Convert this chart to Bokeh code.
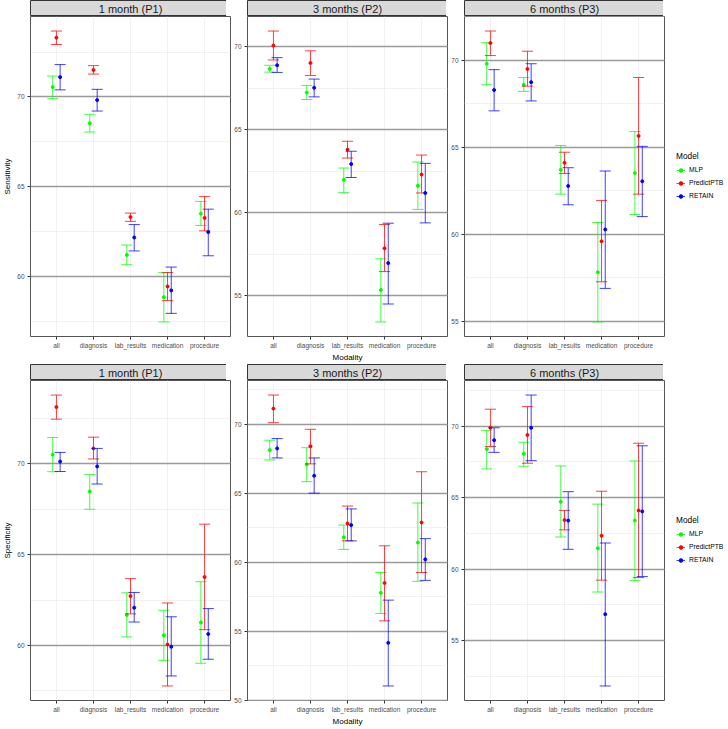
from bokeh.plotting import figure
from bokeh.models import (FactorRange, Range1d, ColumnDataSource, SingleIntervalTicker,
                          Legend, LegendItem, Label)
from bokeh.transform import dodge
from bokeh.layouts import row, column
from bokeh.embed import file_html
from bokeh.resources import INLINE

MODALITIES = ["all", "diagnosis", "lab_results", "medication", "procedure"]
MODELS = ["MLP", "PredictPTB", "RETAIN"]
COLORS = ["#00FF00", "#FF0000", "#0000FF"]
PERIODS = ["1 month (P1)", "3 months (P2)", "6 months (P3)"]
METRICS = ["Sensitivity", "Specificity"]

# ---------------- Sensitivity, 1 month (P1) ----------------
SENS_P1_MLP = [70.55, 68.53, 61.19, 58.83, 63.49]
SENS_P1_MLP_LO = [69.90, 68.04, 60.64, 57.45, 62.83]
SENS_P1_MLP_HI = [71.16, 69.03, 61.74, 60.20, 64.17]
SENS_P1_PTB = [73.30, 71.50, 63.30, 59.43, 63.25]
SENS_P1_PTB_LO = [72.92, 71.27, 63.06, 58.64, 62.53]
SENS_P1_PTB_HI = [73.67, 71.74, 63.52, 60.20, 64.44]
SENS_P1_RET = [71.10, 69.82, 62.16, 59.21, 62.46]
SENS_P1_RET_LO = [70.39, 69.21, 61.41, 57.93, 61.14]
SENS_P1_RET_HI = [71.80, 70.42, 62.88, 60.51, 63.74]

# ---------------- Sensitivity, 3 months (P2) ----------------
SENS_P2_MLP = [68.65, 67.23, 61.98, 55.35, 61.62]
SENS_P2_MLP_LO = [68.46, 66.81, 61.21, 53.43, 60.20]
SENS_P2_MLP_HI = [68.87, 67.66, 62.69, 57.23, 63.05]
SENS_P2_PTB = [70.06, 69.01, 63.80, 57.86, 62.30]
SENS_P2_PTB_LO = [69.19, 68.26, 63.29, 56.46, 61.19]
SENS_P2_PTB_HI = [70.93, 69.74, 64.30, 59.29, 63.47]
SENS_P2_RET = [68.87, 67.52, 62.93, 56.97, 61.19]
SENS_P2_RET_LO = [68.44, 66.97, 62.12, 54.51, 59.39]
SENS_P2_RET_HI = [69.33, 68.04, 63.70, 59.37, 62.97]

# ---------------- Sensitivity, 6 months (P3) ----------------
SENS_P3_MLP = [69.81, 68.60, 63.71, 57.82, 63.52]
SENS_P3_MLP_LO = [68.60, 68.22, 62.31, 54.96, 61.14]
SENS_P3_MLP_HI = [71.02, 69.02, 65.11, 60.68, 65.91]
SENS_P3_PTB = [71.00, 69.51, 64.11, 59.60, 65.66]
SENS_P3_PTB_LO = [70.28, 68.52, 63.50, 57.27, 62.31]
SENS_P3_PTB_HI = [71.69, 70.53, 64.72, 61.95, 69.02]
SENS_P3_RET = [68.30, 68.75, 62.78, 60.28, 63.05]
SENS_P3_RET_LO = [67.10, 67.67, 61.70, 56.89, 61.02]
SENS_P3_RET_HI = [69.47, 69.81, 63.83, 63.64, 65.06]

# ---------------- Specificity, 1 month (P1) ----------------
SPEC_P1_MLP = [70.51, 68.48, 61.68, 60.56, 61.27]
SPEC_P1_MLP_LO = [69.57, 67.50, 60.47, 59.18, 59.02]
SPEC_P1_MLP_HI = [71.45, 69.42, 62.90, 61.94, 63.51]
SPEC_P1_PTB = [73.13, 70.85, 62.72, 60.05, 63.77]
SPEC_P1_PTB_LO = [72.46, 70.27, 61.74, 57.77, 60.87]
SPEC_P1_PTB_HI = [73.79, 71.47, 63.68, 62.34, 66.68]
SPEC_P1_RET = [70.13, 69.86, 62.08, 59.93, 60.63]
SPEC_P1_RET_LO = [69.58, 68.89, 61.29, 58.32, 59.24]
SPEC_P1_RET_HI = [70.63, 70.85, 62.92, 61.58, 62.03]

# ---------------- Specificity, 3 months (P2) ----------------
SPEC_P2_MLP = [68.12, 67.07, 61.81, 57.79, 61.43]
SPEC_P2_MLP_LO = [67.40, 65.83, 60.93, 56.29, 58.62]
SPEC_P2_MLP_HI = [68.83, 68.29, 62.69, 59.26, 64.29]
SPEC_P2_PTB = [71.12, 68.40, 62.81, 58.50, 62.88]
SPEC_P2_PTB_LO = [70.10, 67.12, 61.55, 55.76, 59.26]
SPEC_P2_PTB_HI = [72.10, 69.62, 64.07, 61.19, 66.55]
SPEC_P2_RET = [68.24, 66.26, 62.69, 54.17, 60.21]
SPEC_P2_RET_LO = [67.55, 65.00, 61.55, 51.05, 58.69]
SPEC_P2_RET_HI = [68.95, 67.55, 63.86, 57.26, 61.71]

# ---------------- Specificity, 6 months (P3) ----------------
SPEC_P3_MLP = [68.39, 68.06, 64.70, 61.45, 63.39]
SPEC_P3_MLP_LO = [67.00, 67.19, 62.24, 58.39, 59.19]
SPEC_P3_MLP_HI = [69.70, 68.87, 67.21, 64.54, 67.56]
SPEC_P3_PTB = [69.88, 69.38, 63.43, 62.33, 64.10]
SPEC_P3_PTB_LO = [68.57, 67.40, 62.74, 59.22, 59.40]
SPEC_P3_PTB_HI = [71.18, 71.36, 64.10, 65.44, 68.80]
SPEC_P3_RET = [69.01, 69.88, 63.39, 56.84, 64.03]
SPEC_P3_RET_LO = [68.16, 67.58, 61.38, 51.82, 59.47]
SPEC_P3_RET_HI = [69.88, 72.17, 65.41, 61.82, 68.62]

PANELS = [
    [  # Sensitivity
        [(SENS_P1_MLP, SENS_P1_MLP_LO, SENS_P1_MLP_HI),
         (SENS_P1_PTB, SENS_P1_PTB_LO, SENS_P1_PTB_HI),
         (SENS_P1_RET, SENS_P1_RET_LO, SENS_P1_RET_HI)],
        [(SENS_P2_MLP, SENS_P2_MLP_LO, SENS_P2_MLP_HI),
         (SENS_P2_PTB, SENS_P2_PTB_LO, SENS_P2_PTB_HI),
         (SENS_P2_RET, SENS_P2_RET_LO, SENS_P2_RET_HI)],
        [(SENS_P3_MLP, SENS_P3_MLP_LO, SENS_P3_MLP_HI),
         (SENS_P3_PTB, SENS_P3_PTB_LO, SENS_P3_PTB_HI),
         (SENS_P3_RET, SENS_P3_RET_LO, SENS_P3_RET_HI)],
    ],
    [  # Specificity
        [(SPEC_P1_MLP, SPEC_P1_MLP_LO, SPEC_P1_MLP_HI),
         (SPEC_P1_PTB, SPEC_P1_PTB_LO, SPEC_P1_PTB_HI),
         (SPEC_P1_RET, SPEC_P1_RET_LO, SPEC_P1_RET_HI)],
        [(SPEC_P2_MLP, SPEC_P2_MLP_LO, SPEC_P2_MLP_HI),
         (SPEC_P2_PTB, SPEC_P2_PTB_LO, SPEC_P2_PTB_HI),
         (SPEC_P2_RET, SPEC_P2_RET_LO, SPEC_P2_RET_HI)],
        [(SPEC_P3_MLP, SPEC_P3_MLP_LO, SPEC_P3_MLP_HI),
         (SPEC_P3_PTB, SPEC_P3_PTB_LO, SPEC_P3_PTB_HI),
         (SPEC_P3_RET, SPEC_P3_RET_LO, SPEC_P3_RET_HI)],
    ],
]

FONT = "Liberation Sans"
DODGE = [-0.1, 0.0, 0.1]
CAP = 0.15
FW = 200
FH = 320
STRIP_H = 16
BOTTOM = 24
LEFTS = [25, 14, 14]
LEGEND_W = 62
LEGEND_H = 51


def make_strip(text, left):
    s = figure(x_range=Range1d(0, 1), y_range=Range1d(0, 1),
               frame_width=FW, frame_height=STRIP_H,
               min_border_left=left, min_border_right=1, min_border_top=0, min_border_bottom=0,
               x_axis_location=None, y_axis_location=None,
               toolbar_location=None, output_backend="svg",
               background_fill_color="#d9d9d9", border_fill_color="white",
               outline_line_color="#333333", outline_line_width=1)
    s.grid.visible = False
    s.add_layout(Label(x=0.5, y=0.5, text=text, text_align="center", text_baseline="middle",
                       text_font=FONT, text_font_size="11px", text_color="#1a1a1a"))
    return s


def make_panel(metric_i, col):
    series = PANELS[metric_i][col]
    lows = [v for s in series for v in s[1]]
    highs = [v for s in series for v in s[2]]
    lo, hi = min(lows), max(highs)
    pad = 0.05 * (hi - lo)
    xr = FactorRange(factors=MODALITIES, range_padding=0.2, range_padding_units="absolute")
    p = figure(x_range=xr, y_range=Range1d(lo - pad, hi + pad),
               frame_width=FW, frame_height=FH,
               min_border_left=LEFTS[col], min_border_right=1, min_border_top=0,
               min_border_bottom=BOTTOM,
               toolbar_location=None, output_backend="svg",
               background_fill_color="white", border_fill_color="white",
               outline_line_color="#555555", outline_line_width=1)

    ticker = SingleIntervalTicker(interval=5, num_minor_ticks=2)
    p.yaxis.ticker = ticker
    p.ygrid.ticker = ticker
    p.ygrid.grid_line_color = "#9a9a9a"
    p.ygrid.grid_line_width = 1.3
    p.ygrid.minor_grid_line_color = "#ebebeb"
    p.ygrid.minor_grid_line_width = 0.7
    p.xgrid.grid_line_color = "#ebebeb"
    p.xgrid.grid_line_width = 0.7

    for ax in (p.xaxis, p.yaxis):
        ax.axis_line_color = None
        ax.major_tick_line_color = "#333333"
        ax.major_tick_out = 3
        ax.major_tick_in = 0
        ax.minor_tick_line_color = None
        ax.major_label_text_font = FONT
        ax.major_label_text_font_size = "6.5px"
        ax.major_label_text_color = "#4d4d4d"
        ax.major_label_standoff = 2
        ax.axis_label_text_font = FONT
        ax.axis_label_text_font_size = "8px"
        ax.axis_label_text_font_style = "normal"
        ax.axis_label_text_color = "#000000"
        ax.axis_label_standoff = 2

    if col == 0:
        p.yaxis.axis_label = METRICS[metric_i]
    if col == 1:
        p.xaxis.axis_label = "Modality"
        p.xaxis.axis_label_standoff = 1

    srcs = []
    for k, (mean, lo_v, hi_v) in enumerate(series):
        src = ColumnDataSource(dict(Modality=MODALITIES, mean=mean, lo=lo_v, hi=hi_v))
        srcs.append(src)
        c = COLORS[k]
        off = DODGE[k]
        xc = dodge("Modality", off, range=xr)
        xl = dodge("Modality", off - CAP, range=xr)
        xh = dodge("Modality", off + CAP, range=xr)
        p.segment(x0=xc, y0="lo", x1=xc, y1="hi", source=src,
                  line_color=c, line_alpha=0.75, line_width=1)
        p.segment(x0=xl, y0="lo", x1=xh, y1="lo", source=src,
                  line_color=c, line_alpha=0.75, line_width=1)
        p.segment(x0=xl, y0="hi", x1=xh, y1="hi", source=src,
                  line_color=c, line_alpha=0.75, line_width=1)
        p.scatter(x=xc, y="mean", source=src, size=3, marker="circle",
                  fill_color=c, line_color=c)
    return p, srcs


def make_legend_fig(srcs):
    total_h = STRIP_H + FH + BOTTOM
    lg = figure(x_range=Range1d(0, 1), y_range=Range1d(0, 1),
                frame_width=LEGEND_W, frame_height=total_h, min_border=0,
                x_axis_location=None, y_axis_location=None,
                toolbar_location=None, output_backend="svg",
                background_fill_color="white", border_fill_color="white",
                outline_line_color=None)
    lg.grid.visible = False
    items = []
    for k, src in enumerate(srcs):
        c = COLORS[k]
        # glyphs use the series values, which lie far outside this 0-1 frame:
        # only their legend keys are visible
        vr = lg.segment(x0="mean", y0="lo", x1="mean", y1="hi", source=src,
                        line_color=c, line_alpha=0.75, line_width=1)
        pr = lg.scatter(x="mean", y="mean", source=src, size=3, marker="circle",
                        fill_color=c, line_color=c)
        items.append(LegendItem(label=MODELS[k], renderers=[vr, pr]))
    center_from_bottom = BOTTOM + FH / 2
    legend = Legend(items=items, title="Model",
                    location=(11, center_from_bottom - LEGEND_H / 2),
                    title_text_font=FONT, title_text_font_size="8.3px",
                    title_text_font_style="normal", title_text_color="#000000",
                    label_text_font=FONT, label_text_font_size="6.8px",
                    label_text_color="#000000",
                    glyph_width=9, glyph_height=12, label_standoff=4,
                    label_height=12, spacing=1, padding=0, margin=0,
                    title_standoff=3,
                    border_line_color=None, background_fill_alpha=0)
    lg.add_layout(legend, "center")
    return lg


rows = []
for mi in range(2):
    cols = []
    last_srcs = None
    for ci in range(3):
        p, srcs = make_panel(mi, ci)
        last_srcs = srcs
        cols.append(column(make_strip(PERIODS[ci], LEFTS[ci]), p, spacing=0))
    cols.append(make_legend_fig(last_srcs))
    rows.append(row(*cols, spacing=0))

layout = column(*rows, spacing=0)

open("out.html", "w").write(file_html(layout, INLINE))
